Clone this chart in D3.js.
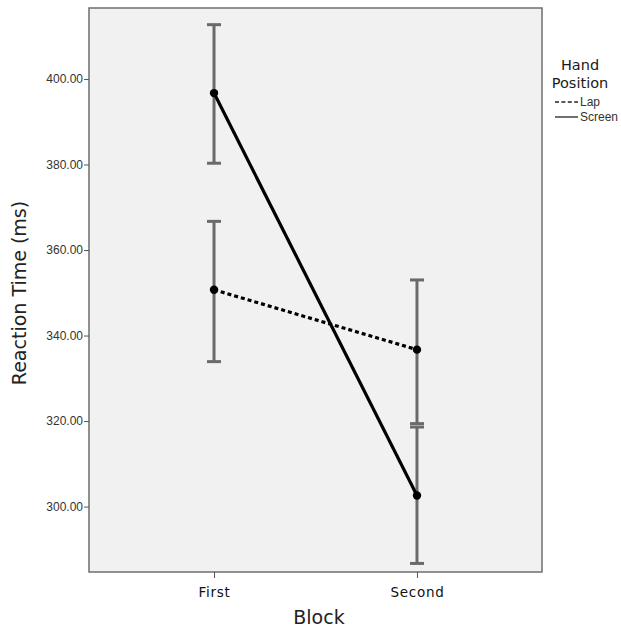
<!DOCTYPE html>
<html><head><meta charset="utf-8">
<script src="https://cdn.jsdelivr.net/npm/d3@7"></script>
<style>body{margin:0;background:#fff;}svg{display:block;}</style>
</head><body>
<svg id="c" width="621" height="631"></svg>
<script>
const blocks = ["First", "Second"];
const seriesNames = ["Lap", "Screen"];
const lapMean = [350.7, 336.7];
const lapLow = [333.9, 319.4];
const lapHigh = [366.7, 353.0];
const screenMean = [396.7, 302.6];
const screenLow = [380.3, 286.7];
const screenHigh = [412.7, 318.6];
const yTicks = [300, 320, 340, 360, 380, 400];

const svg = d3.select("#c");
const L = 89, R = 542, T = 8, B = 572;
const x = d3.scalePoint().domain(blocks).range([L, R]).padding(0.616);
const y = d3.scaleLinear().domain([284.7, 416.6]).range([B, T]);

svg.append("rect").attr("x", L).attr("y", T).attr("width", R - L).attr("height", B - T)
  .attr("fill", "#f1f1f1").attr("stroke", "#6e6e6e").attr("stroke-width", 1.5);

const yAxis = svg.append("g").attr("transform", `translate(${L},0)`)
  .call(d3.axisLeft(y).tickValues(yTicks).tickFormat(d3.format(".2f")).tickSize(5).tickSizeOuter(0));
yAxis.select(".domain").remove();
yAxis.selectAll("line").attr("stroke", "#555");
yAxis.selectAll("text").attr("font-family", "Liberation Sans, Arial, sans-serif").attr("font-size", 12).attr("fill", "#333").attr("x", -6);

const xAxis = svg.append("g").attr("transform", `translate(0,${B})`)
  .call(d3.axisBottom(x).tickSize(6).tickSizeOuter(0));
xAxis.select(".domain").remove();
xAxis.selectAll("line").attr("stroke", "#555");
xAxis.selectAll("text").attr("font-family", "DejaVu Sans, sans-serif").attr("font-size", 13.5)
  .attr("letter-spacing", 0.7).attr("fill", "#111").attr("y", 25).attr("dy", null);

svg.append("text").attr("x", 319).attr("y", 624).attr("text-anchor", "middle")
  .attr("font-family", "DejaVu Sans, sans-serif").attr("font-size", 19).attr("fill", "#222").text("Block");
svg.append("text").attr("transform", "translate(26,293) rotate(-90)").attr("text-anchor", "middle")
  .attr("font-family", "DejaVu Sans, sans-serif").attr("font-size", 19).attr("fill", "#222").text("Reaction Time (ms)");

const series = [
  {name: seriesNames[0], mean: lapMean, low: lapLow, high: lapHigh, dash: "4,3"},
  {name: seriesNames[1], mean: screenMean, low: screenLow, high: screenHigh, dash: null}
];

// error bars
series.forEach(s => {
  blocks.forEach((b, i) => {
    const g = svg.append("g").attr("stroke", "#6a6a6a").attr("stroke-width", 3);
    g.append("line").attr("x1", x(b)).attr("x2", x(b)).attr("y1", y(s.low[i])).attr("y2", y(s.high[i]));
    g.append("line").attr("x1", x(b) - 7).attr("x2", x(b) + 7).attr("y1", y(s.low[i])).attr("y2", y(s.low[i]));
    g.append("line").attr("x1", x(b) - 7).attr("x2", x(b) + 7).attr("y1", y(s.high[i])).attr("y2", y(s.high[i]));
  });
});

const line = d3.line().x((d, i) => x(blocks[i])).y(d => y(d));
series.forEach(s => {
  svg.append("path").datum(s.mean).attr("d", line).attr("fill", "none")
    .attr("stroke", "#000").attr("stroke-width", 3.2).attr("stroke-dasharray", s.dash);
  svg.selectAll(null).data(s.mean).enter().append("circle")
    .attr("cx", (d, i) => x(blocks[i])).attr("cy", d => y(d)).attr("r", 4.2).attr("fill", "#000");
});

// legend
const lg = svg.append("g");
lg.append("text").attr("x", 580).attr("y", 70).attr("text-anchor", "middle").attr("font-family", "DejaVu Sans, sans-serif")
  .attr("font-size", 14.5).attr("fill", "#1a1a1a").text("Hand");
lg.append("text").attr("x", 580).attr("y", 88).attr("text-anchor", "middle").attr("font-family", "DejaVu Sans, sans-serif")
  .attr("font-size", 14.5).attr("fill", "#1a1a1a").text("Position");
series.forEach((s, i) => {
  const yy = 102 + i * 15;
  lg.append("line").attr("x1", 555).attr("x2", 578).attr("y1", yy).attr("y2", yy)
    .attr("stroke", "#222").attr("stroke-width", 1.3).attr("stroke-dasharray", s.dash ? "4,2.4" : null);
  lg.append("text").attr("x", 580).attr("y", yy + 4).attr("font-family", "Liberation Sans, Arial, sans-serif")
    .attr("font-size", 12).attr("fill", "#333").text(s.name);
});
</script>
</body></html>
